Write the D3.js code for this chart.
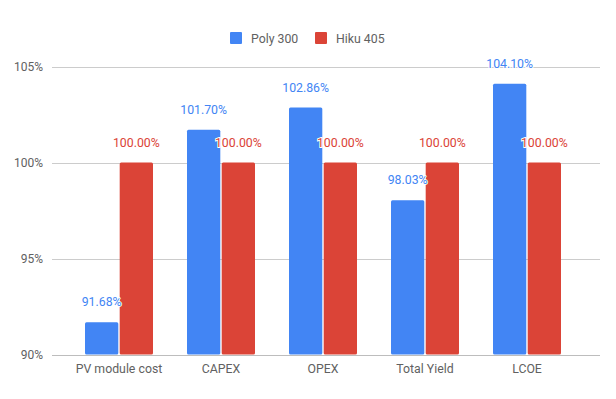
<!DOCTYPE html>
<html lang="en">
<head>
    <script src="https://d3js.org/d3.v7.min.js"></script>
    <style>
        body { margin: 0; background: #fff; }
        text { font-family: Roboto, "Noto Sans", sans-serif; }
    </style>
</head>
<body>
    <svg width="616" height="399"></svg>
    <script>
        const categories = ["PV module cost", "CAPEX", "OPEX", "Total Yield", "LCOE"];
        const seriesNames = ["Poly 300", "Hiku 405"];
        const poly300 = [91.68, 101.70, 102.86, 98.03, 104.10];
        const hiku405 = [100, 100, 100, 100, 100];
        const yTicks = [90, 95, 100, 105];
        const colors = ["#4285f4", "#db4437"];

        const svg = d3.select("svg");
        const plotLeft = 52, plotRight = 600, plotTop = 66.5, plotBottom = 354.5;

        const x = d3.scaleBand().domain(categories).range([68, 578]);
        const xs = d3.scaleBand().domain(seriesNames).range([0, x.bandwidth()]).paddingOuter(0.49).paddingInner(0.04);
        const y = d3.scaleLinear().domain([90, 105]).range([plotBottom, plotTop]);

        // grid
        svg.append("g")
            .selectAll("line")
            .data(yTicks)
            .join("line")
            .attr("x1", plotLeft).attr("x2", plotRight)
            .attr("y1", d => Math.round(y(d)) + 0.5)
            .attr("y2", d => Math.round(y(d)) + 0.5)
            .attr("stroke", d => d === 90 ? "#bdbdbd" : "#cccccc")
            .attr("stroke-width", 1);

        svg.append("g")
            .selectAll("text")
            .data(yTicks)
            .join("text")
            .attr("x", 43)
            .attr("y", d => y(d) + 4)
            .attr("text-anchor", "end")
            .attr("font-size", 12)
            .attr("fill", "#616161")
            .text(d => d + "%");

        const rows = categories.map((c, i) => ({cat: c, vals: [poly300[i], hiku405[i]]}));

        const groups = svg.append("g")
            .selectAll("g")
            .data(rows)
            .join("g")
            .attr("transform", d => `translate(${x(d.cat)},0)`);

        groups.selectAll("rect")
            .data(d => d.vals.map((v, j) => ({s: seriesNames[j], v, j})))
            .join("rect")
            .attr("x", d => xs(d.s))
            .attr("width", xs.bandwidth())
            .attr("y", d => y(d.v))
            .attr("height", d => y(90) - y(d.v))
            .attr("rx", 1.5)
            .attr("fill", d => colors[d.j]);

        groups.selectAll("text")
            .data(d => d.vals.map((v, j) => ({s: seriesNames[j], v, j})))
            .join("text")
            .attr("x", d => xs(d.s) + xs.bandwidth() / 2)
            .attr("y", d => y(d.v) - 16)
            .attr("text-anchor", "middle")
            .attr("font-size", 12.3)
            .attr("fill", d => colors[d.j])
            .attr("stroke", "#fff")
            .attr("stroke-width", 2)
            .attr("paint-order", "stroke")
            .text(d => d.v.toFixed(2) + "%");

        // x labels
        svg.append("g")
            .selectAll("text")
            .data(categories)
            .join("text")
            .attr("x", d => x(d) + x.bandwidth() / 2)
            .attr("y", 373)
            .attr("text-anchor", "middle")
            .attr("font-size", 12.3)
            .attr("fill", "#616161")
            .text(d => d);

        // legend
        const legendX = [230, 315];
        const legend = svg.append("g")
            .selectAll("g")
            .data(seriesNames)
            .join("g")
            .attr("transform", (d, i) => `translate(${legendX[i]},32)`);
        legend.append("rect")
            .attr("width", 12).attr("height", 12)
            .attr("rx", 1)
            .attr("fill", (d, i) => colors[i]);
        legend.append("text")
            .attr("x", 21).attr("y", 10.5)
            .attr("font-size", 12.3)
            .attr("fill", "#616161")
            .text(d => d);
    </script>
</body>
</html>
